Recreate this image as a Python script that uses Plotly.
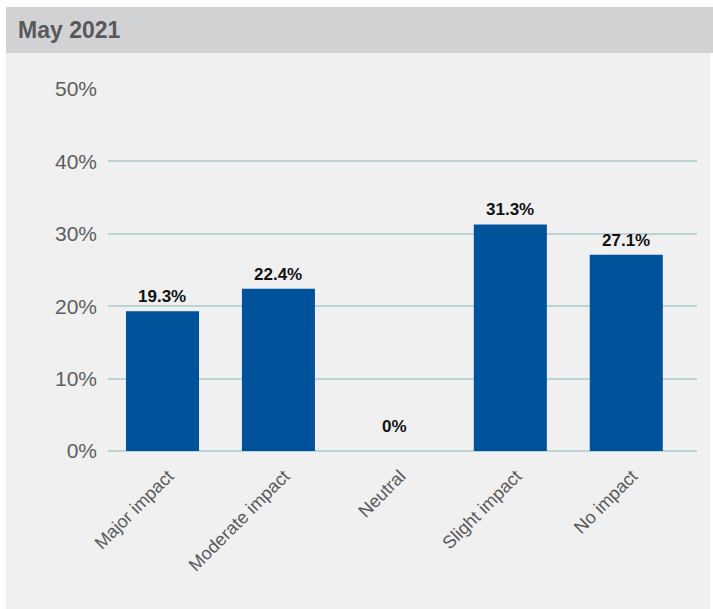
import plotly.graph_objects as go

# Survey responses, May 2021
categories = ["Major impact", "Moderate impact", "Neutral", "Slight impact", "No impact"]
shares = [19.3, 22.4, 0, 31.3, 27.1]
y_ticks = [0, 10, 20, 30, 40, 50]
title_text = "May 2021"

W, H = 713, 609
L, R, T, B = 108, 16, 89, 158          # plot-area margins in px
PW, PH = W - L - R, H - T - B


def px_x(x):
    return (x - L) / PW


def px_y(y):
    return (H - B - y) / PH


BAR = "#00529b"
GRID = "#bcd3d4"
TXT = "#58595b"

fig = go.Figure(
    go.Bar(
        x=list(range(len(categories))),
        y=shares,
        marker=dict(color=BAR, line=dict(width=0)),
        width=0.63,
        hoverinfo="skip",
    )
)

# value labels above bars
for i, v in enumerate(shares):
    fig.add_annotation(
        x=i, y=v, xref="x", yref="y",
        text=f"{v:g}%",
        showarrow=False, yanchor="bottom",
        yshift=3 if v > 0 else 13,
        font=dict(family="Liberation Sans, Arial, sans-serif", size=17, color="#111111", weight="bold"),
    )

# background panel and header band
fig.add_shape(type="rect", xref="paper", yref="paper", layer="below",
              x0=px_x(6), x1=px_x(710), y0=px_y(609), y1=px_y(53),
              fillcolor="#f0f0f0", line=dict(width=0))
fig.add_shape(type="rect", xref="paper", yref="paper", layer="below",
              x0=px_x(6), x1=px_x(713), y0=px_y(53), y1=px_y(7),
              fillcolor="#d1d2d4", line=dict(width=0))
fig.add_annotation(
    xref="paper", yref="paper", x=px_x(16), y=px_y(30),
    xanchor="left", yanchor="middle", showarrow=False,
    text=f"<b>{title_text}</b>",
    font=dict(family="Liberation Sans, Arial, sans-serif", size=23, color=TXT),
)

fig.update_layout(
    width=W, height=H,
    margin=dict(l=L, r=R, t=T, b=B),
    paper_bgcolor="white",
    plot_bgcolor="rgba(0,0,0,0)",
    showlegend=False,
    xaxis=dict(
        range=[-0.47, 4.61],
        tickmode="array",
        tickvals=list(range(len(categories))),
        ticktext=categories,
        tickangle=-45,
        showgrid=False, zeroline=False, showline=False,
        ticks="", ticklabelstandoff=10, ticklabelshift=6,
        tickfont=dict(family="Liberation Sans, Arial, sans-serif", size=18, color=TXT),
        fixedrange=True,
    ),
    yaxis=dict(
        range=[0, 50],
        tickmode="array",
        tickvals=y_ticks,
        ticktext=[f"{t}%" for t in y_ticks],
        showgrid=True, gridcolor=GRID, gridwidth=2,
        zeroline=True, zerolinecolor=GRID, zerolinewidth=2,
        showline=False, ticks="", ticklabelstandoff=10,
        tickfont=dict(family="Liberation Sans, Arial, sans-serif", size=21, color="#5e5e5e"),
        fixedrange=True,
    ),
)

fig.write_html("out.html")
